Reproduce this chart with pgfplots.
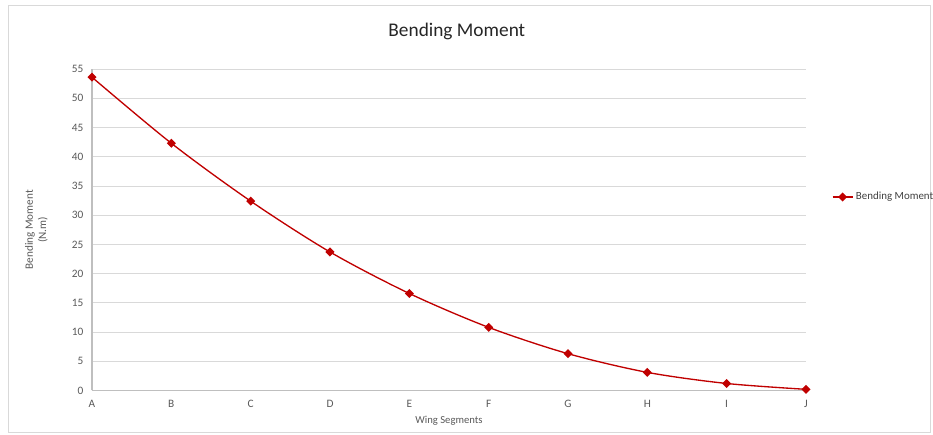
\documentclass[border=0pt]{standalone}
\usepackage{pgfplots}
\pgfplotsset{compat=1.18}
\usepackage{fontspec}
\setmainfont{Carlito}
\definecolor{lred}{HTML}{C00000}
\definecolor{gridc}{HTML}{D9D9D9}
\definecolor{axc}{HTML}{BFBFBF}
\definecolor{txt}{HTML}{595959}
\begin{document}
\begin{tikzpicture}
\path[use as bounding box] (0pt,0pt) rectangle (699.75pt,326.25pt);
\draw[gridc,line width=0.6pt] (6pt,2.25pt) rectangle (697.5pt,322.5pt);
\begin{axis}[
  at={(69pt,33.375pt)}, anchor=south west,
  scale only axis, width=535.5pt, height=241.1pt,
  xmin=0, xmax=9, ymin=0, ymax=55,
  xtick={0,...,9}, xticklabels={A,B,C,D,E,F,G,H,I,J},
  ytick={0,5,...,55},
  ymajorgrids, grid style={gridc, line width=0.6pt},
  axis x line*=bottom, axis y line*=left,
  axis line style={axc, line width=0.8pt, -},
  major tick length=0pt,
  tick label style={font=\fontsize{8.5}{9}\selectfont, text=txt},
  /pgf/number format/assume math mode=true,
  yticklabel style={xshift=-3pt},
  xticklabel style={yshift=-4pt},
  every axis title shift=0pt,
  title={Bending Moment},
  title style={font=\fontsize{14.5}{16}\selectfont, text=black!85, at={(axis description cs:0.511,1.118)}, anchor=center},
  xlabel={Wing Segments},
  xlabel style={font=\fontsize{8}{9}\selectfont, text=txt, at={(axis description cs:0.5,-0.095)}, anchor=center},
  ylabel={Bending Moment\\(N.m)},
  ylabel style={font=\fontsize{8.4}{10}\selectfont, text=txt, align=center, at={(axis description cs:-0.078,0.5)}, anchor=center},
  legend style={at={(axis description cs:1.036,0.602)}, anchor=west, draw=none, fill=none, font=\fontsize{8.2}{9}\selectfont, text=black!75, inner sep=0pt},
  legend cell align=left,
  legend image code/.code={\draw[#1] (0pt,0pt) -- (15pt,0pt); \draw[#1, only marks] plot coordinates {(7.5pt,0pt)};},
  clip=false,
]
\addplot[lred, line width=1pt, smooth, mark=square*, mark size=1.9pt, mark options={solid, fill=lred, rotate=45}]
coordinates {(0,53.6) (1,42.3) (2,32.4) (3,23.7) (4,16.6) (5,10.8) (6,6.3) (7,3.1) (8,1.2) (9,0.2)};
\addlegendentry{Bending Moment}
\end{axis}
\end{tikzpicture}
\end{document}
